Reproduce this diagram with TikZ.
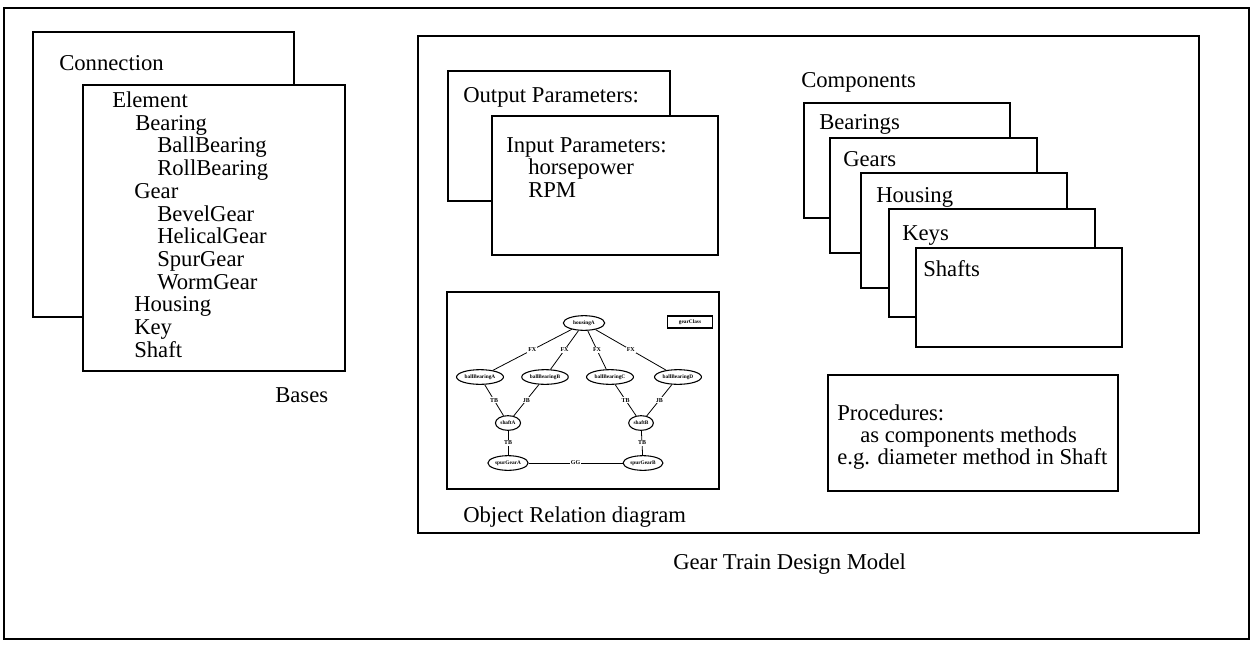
\documentclass[tikz,border=0pt]{standalone}
\usepackage{fontspec}
\setmainfont{Liberation Serif}
\usetikzlibrary{shapes.geometric}

\begin{document}
\begin{tikzpicture}[x=0.75pt,y=0.75pt,yscale=-1,xscale=1,
  panel/.style={line width=0.9pt, fill=white},
  txt/.style={anchor=base west, inner sep=0pt, font=\fontsize{17}{20}\selectfont},
  obj/.style={draw, ellipse, line width=0.8pt, inner xsep=1pt, inner ysep=1pt, minimum height=11pt, font=\fontsize{4}{4}\selectfont\bfseries},
  rel/.style={midway, fill=white, inner sep=0.8pt, font=\fontsize{4.5}{5}\selectfont\bfseries}]
\useasboundingbox (0,0) rectangle (1252,646);

%Shape: Rectangle (outer frame)
\draw [line width=1.8pt]  (4,8) rectangle (1249,639) ;

%Shape: Rectangle (Connection)
\draw [panel]  (33,32) rectangle (294,317) ;
%Shape: Rectangle (Element)
\draw [panel]  (83,85) rectangle (345,371) ;

%Shape: Rectangle (design model frame)
\draw [line width=1pt]  (418,36) rectangle (1199,533) ;

%Shape: Rectangle (output parameters)
\draw [panel]  (448,71) rectangle (670,201) ;
%Shape: Rectangle (input parameters)
\draw [panel]  (492,116) rectangle (718,255) ;

%Shape: Rectangle (object relation)
\draw [line width=1pt]  (447,292) rectangle (719,489) ;

%Shape: Rectangle (components stack)
\draw [panel]  (804,103) rectangle (1010,218) ;
\draw [panel]  (830,138) rectangle (1037,253) ;
\draw [panel]  (861,173) rectangle (1067,288) ;
\draw [panel]  (889,209) rectangle (1095,317) ;
\draw [panel]  (916,248) rectangle (1122,347) ;

%Shape: Rectangle (procedures)
\draw [panel]  (828,375) rectangle (1118,491) ;

% Object relation diagram
\node [obj, minimum width=31pt] (housA) at (584,323) {housingA};
\node [draw, line width=1.2pt, minimum width=34pt, minimum height=9pt, inner sep=0.5pt, font=\fontsize{4}{4}\selectfont\bfseries] (gclass) at (690,322) {gearClass};
\node [obj] (bbA) at (480,377) {ballBearingA};
\node [obj] (bbB) at (545,377) {ballBearingB};
\node [obj] (bbC) at (610,377) {ballBearingC};
\node [obj] (bbD) at (678,377) {ballBearingD};
\node [obj] (shA) at (508,423) {shaftA};
\node [obj] (shB) at (641,423) {shaftB};
\node [obj] (sgA) at (508,463) {spurGearA};
\node [obj] (sgB) at (643,463) {spurGearB};

\draw [line width=0.6pt] (housA) -- (bbA) node [rel] {FX};
\draw [line width=0.6pt] (housA) -- (bbB) node [rel] {FX};
\draw [line width=0.6pt] (housA) -- (bbC) node [rel] {FX};
\draw [line width=0.6pt] (housA) -- (bbD) node [rel] {FX};
\draw [line width=0.6pt] (bbA) -- (shA) node [rel] {TB};
\draw [line width=0.6pt] (bbB) -- (shA) node [rel] {JB};
\draw [line width=0.6pt] (bbC) -- (shB) node [rel] {TB};
\draw [line width=0.6pt] (bbD) -- (shB) node [rel] {JB};
\draw [line width=0.6pt] (shA) -- (sgA) node [rel] {TB};
\draw [line width=0.6pt] (shB) -- (sgB) node [rel] {TB};
\draw [line width=0.6pt] (sgA) -- (sgB) node [rel] {GG};

% Text Node
\draw (59,70) node [txt] (conn) {Connection};
% Text Node
\draw (112,107) node [txt] (elem) {Element};
\draw (135,130) node [txt] (bear) {Bearing};
\draw (157,152) node [txt] (ballb) {BallBearing};
\draw (157,175) node [txt] (rollb) {RollBearing};
\draw (134,198) node [txt] (gear) {Gear};
\draw (157,221) node [txt] (bevel) {BevelGear};
\draw (157,243) node [txt] (helic) {HelicalGear};
\draw (157,266) node [txt] (spur) {SpurGear};
\draw (157,289) node [txt] (worm) {WormGear};
\draw (134,311) node [txt] (hous) {Housing};
\draw (134,334) node [txt] (key) {Key};
\draw (134,357) node [txt] (shaft) {Shaft};
% Text Node
\draw (275,402) node [txt] (bases) {Bases};

% Text Node
\draw (463,102) node [txt] (outp) {Output Parameters:};
% Text Node
\draw (506,152) node [txt] (inp) {Input Parameters:};
\draw (528,174) node [txt] (hp) {horsepower};
\draw (528,197) node [txt] (rpm) {RPM};
% Text Node
\draw (463,522) node [txt] (ordlbl) {Object Relation diagram};

% Text Node
\draw (801,87) node [txt] (comps) {Components};
\draw (819,129) node [txt] (cbear) {Bearings};
\draw (843,166) node [txt] (cgear) {Gears};
\draw (876,202) node [txt] (chous) {Housing};
\draw (902,240) node [txt] (ckey) {Keys};
\draw (923,276) node [txt] (cshaft) {Shafts};

% Text Node
\draw (837,420) node [txt] (proc) {Procedures:};
\draw (860,442) node [txt] (proc2) {as components methods};
\draw (837,464) node [txt] (proc3) {e.g. diameter method in Shaft};

% Text Node
\draw (673,569) node [txt] (model) {Gear Train Design Model};

\end{tikzpicture}
\end{document}
